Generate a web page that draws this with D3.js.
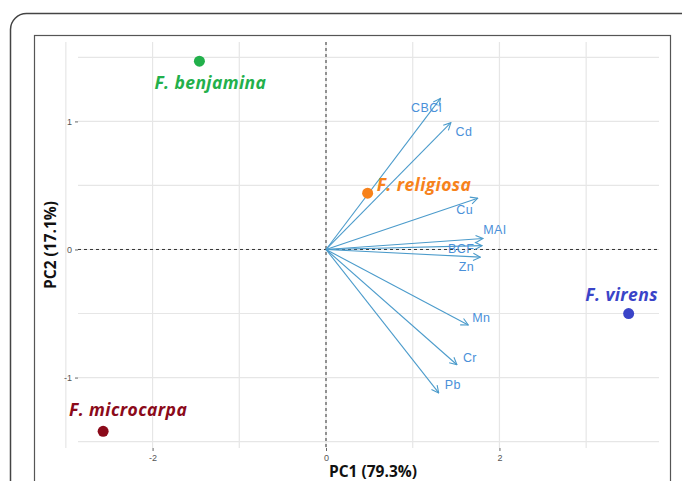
<!DOCTYPE html>
<html lang="en">
<head>
<meta charset="UTF-8">
<title>PCA biplot</title>
<script src="https://cdn.jsdelivr.net/npm/d3@7"></script>
<style>
    body { margin: 0; background: #fff; }
    svg { display: block; }
    .tick text { font-family: Arial, sans-serif; font-size: 9px; fill: #555; }
    .axis-title { font-family: "Open Sans", sans-serif; font-weight: bold; font-size: 15.5px; fill: #111; }
    .sp-label { font-family: "Open Sans", sans-serif; font-weight: bold; font-style: italic; font-size: 17.5px; letter-spacing: 0.4px; }
    .var-label { font-family: Arial, sans-serif; font-size: 12.5px; fill: #4a90d9; letter-spacing: 0.4px; }
</style>
</head>
<body>
<div id="chart"></div>
<script>
    // species scores
    const species = ["F. benjamina", "F. religiosa", "F. virens", "F. microcarpa"];
    const speciesPC1 = [-1.46, 0.48, 3.49, -2.57];
    const speciesPC2 = [1.47, 0.44, -0.50, -1.42];
    const speciesColor = ["#22b04b", "#f7821b", "#3a44c8", "#8b0a1a"];

    // variable loadings (arrows)
    const variables = ["CBCl", "Cd", "Cu", "MAI", "BCF", "Zn", "Mn", "Cr", "Pb"];
    const loadPC1 = [1.32, 1.44, 1.75, 1.81, 1.80, 1.78, 1.64, 1.51, 1.30];
    const loadPC2 = [1.18, 0.99, 0.40, 0.086, 0.03, -0.06, -0.59, -0.90, -1.12];

    const xTicks = [-2, 0, 2];
    const yTicks = [-1, 0, 1];
    const xMinor = [-3, -1, 1, 3];
    const yMinor = [-1.5, -0.5, 0.5, 1.5];

    // label nudges in px (layout only)
    const spNudge = [[11, 21], [9, -9], [-7, -20], [25, -22]];
    const spAnchor = ["middle", "start", "middle", "middle"];
    const varNudge = [[-14, 10], [13, 9], [-13, 12], [12, -8], [-21, 3], [-14, 10], [13, -7], [13, -7], [14, -8]];

    const W = 682, H = 481;
    const svg = d3.select("#chart").append("svg")
        .attr("width", W).attr("height", H);

    // frames
    svg.append("rect")
        .attr("x", 10.5).attr("y", 13.5).attr("width", 700).attr("height", 520)
        .attr("rx", 16).attr("fill", "none").attr("stroke", "#444").attr("stroke-width", 1.5);
    svg.append("rect")
        .attr("x", 34.5).attr("y", 35.5).attr("width", 636).attr("height", 500)
        .attr("fill", "#fff").attr("stroke", "#555").attr("stroke-width", 1.2);

    const panel = { left: 78, right: 659, top: 42, bottom: 448 };

    const x = d3.scaleLinear().domain([-2.86, 3.84]).range([panel.left, panel.right]);
    const y = d3.scaleLinear().domain([-1.55, 1.62]).range([panel.bottom, panel.top]);

    const grid = svg.append("g");
    grid.selectAll(".vx").data(xTicks.concat(xMinor)).enter().append("line")
        .attr("x1", d => x(d)).attr("x2", d => x(d))
        .attr("y1", panel.top).attr("y2", panel.bottom)
        .attr("stroke", "#e6e6e6").attr("stroke-width", 1.2);
    grid.selectAll(".hy").data(yTicks.concat(yMinor)).enter().append("line")
        .attr("y1", d => y(d)).attr("y2", d => y(d))
        .attr("x1", panel.left).attr("x2", panel.right)
        .attr("stroke", "#e6e6e6").attr("stroke-width", 1.2);

    // axes
    const fmt = d => String(d);
    const xAxis = svg.append("g")
        .attr("transform", `translate(0,${panel.bottom})`)
        .call(d3.axisBottom(x).tickValues(xTicks).tickFormat(fmt).tickSize(3).tickPadding(4));
    const yAxis = svg.append("g")
        .attr("transform", `translate(${panel.left},0)`)
        .call(d3.axisLeft(y).tickValues(yTicks).tickFormat(fmt).tickSize(3).tickPadding(3));
    [xAxis, yAxis].forEach(a => {
        a.select(".domain").remove();
        a.selectAll(".tick line").attr("stroke", "#666");
    });

    // zero reference lines
    svg.append("line")
        .attr("x1", x(0)).attr("x2", x(0)).attr("y1", panel.top).attr("y2", panel.bottom)
        .attr("stroke", "#333").attr("stroke-width", 1).attr("stroke-dasharray", "3,3");
    svg.append("line")
        .attr("y1", y(0)).attr("y2", y(0)).attr("x1", panel.left).attr("x2", panel.right)
        .attr("stroke", "#333").attr("stroke-width", 1).attr("stroke-dasharray", "3,3");

    // arrows
    svg.append("defs").append("marker")
        .attr("id", "head").attr("viewBox", "0 0 10 10")
        .attr("refX", 9).attr("refY", 5)
        .attr("markerWidth", 9).attr("markerHeight", 9)
        .attr("markerUnits", "userSpaceOnUse")
        .attr("orient", "auto")
        .append("path").attr("d", "M1,1 L9,5 L1,9")
        .attr("fill", "none").attr("stroke", "#4b9bcb").attr("stroke-width", 1.2);

    svg.append("g").selectAll("line").data(variables).enter().append("line")
        .attr("x1", x(0)).attr("y1", y(0))
        .attr("x2", (d, i) => x(loadPC1[i])).attr("y2", (d, i) => y(loadPC2[i]))
        .attr("stroke", "#4b9bcb").attr("stroke-width", 1.1)
        .attr("marker-end", "url(#head)");

    svg.append("g").selectAll("text").data(variables).enter().append("text")
        .attr("class", "var-label")
        .attr("x", (d, i) => x(loadPC1[i]) + varNudge[i][0])
        .attr("y", (d, i) => y(loadPC2[i]) + varNudge[i][1])
        .attr("text-anchor", "middle").attr("dominant-baseline", "central")
        .text(d => d);

    // species points
    svg.append("g").selectAll("circle").data(species).enter().append("circle")
        .attr("cx", (d, i) => x(speciesPC1[i])).attr("cy", (d, i) => y(speciesPC2[i]))
        .attr("r", 5.5).attr("fill", (d, i) => speciesColor[i]);

    svg.append("g").selectAll("text").data(species).enter().append("text")
        .attr("class", "sp-label")
        .attr("x", (d, i) => x(speciesPC1[i]) + spNudge[i][0])
        .attr("y", (d, i) => y(speciesPC2[i]) + spNudge[i][1])
        .attr("text-anchor", (d, i) => spAnchor[i])
        .attr("dominant-baseline", "central")
        .attr("fill", (d, i) => speciesColor[i])
        .text(d => d);

    // axis titles
    svg.append("text").attr("class", "axis-title")
        .attr("x", 373).attr("y", 471).attr("text-anchor", "middle")
        .attr("dominant-baseline", "central")
        .text("PC1 (79.3%)");
    svg.append("text").attr("class", "axis-title")
        .attr("transform", "translate(50,245) rotate(-90)")
        .attr("text-anchor", "middle").attr("dominant-baseline", "central")
        .text("PC2 (17.1%)");
</script>
</body>
</html>
